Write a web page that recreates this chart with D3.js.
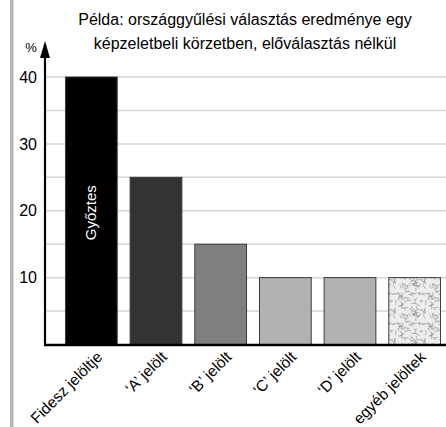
<!DOCTYPE html>
<html lang="hu">
<head>
<meta charset="UTF-8">
<title>Példa: országgyűlési választás</title>
<style>
  body { margin: 0; background: #fff; }
  svg { display: block; font-family: "Liberation Sans", Arial, sans-serif; }
</style>
</head>
<body>
<svg id="chart" width="446" height="427"></svg>
<script src="https://cdn.jsdelivr.net/npm/d3@7"></script>
<script>
// data
const categories = ["Fidesz jelöltje", "‘A’ jelölt", "‘B’ jelölt", "‘C’ jelölt", "‘D’ jelölt", "egyéb jelöltek"];
const values = [40, 25, 15, 10, 10, 10];
const fills = ["#000000", "#333333", "#7f7f7f", "#b2b2b2", "#b2b2b2", "url(#noise)"];
const yTicks = [10, 20, 30, 40];
const gridTicks = [5, 10, 15, 20, 25, 30, 35, 40];
const titleLines = ["Példa: országgyűlési választás eredménye egy", "képzeletbeli körzetben, előválasztás nélkül"];

const svg = d3.select("#chart");

// texture for "egyéb"
const defs = svg.append("defs");
const pat = defs.append("pattern")
  .attr("id", "noise").attr("patternUnits", "userSpaceOnUse")
  .attr("width", 30).attr("height", 30);
pat.append("rect").attr("width", 30).attr("height", 30).attr("fill", "#ededed");
let seed = 11;
function rnd() { seed = (seed * 16807) % 2147483647; return seed / 2147483647; }
for (let i = 0; i < 70; i++) {
  const cx = rnd() * 30, cy = rnd() * 30, a = rnd() * Math.PI, l = 3 + rnd() * 3;
  pat.append("line")
    .attr("x1", cx - Math.cos(a) * l / 2).attr("y1", cy - Math.sin(a) * l / 2)
    .attr("x2", cx + Math.cos(a) * l / 2).attr("y2", cy + Math.sin(a) * l / 2)
    .attr("stroke", "#8a8a8a").attr("stroke-width", 0.6);
}

// left decoration stripe
svg.append("rect").attr("x", 10).attr("y", 0).attr("width", 3.5).attr("height", 427).attr("fill", "#b4b4b4");

const x = d3.scaleBand().domain(categories).range([59, 447]).paddingInner(0.2).paddingOuter(0.1);
const y = d3.scaleLinear().domain([0, 40]).range([344.5, 77]);

// gridlines
svg.append("g").selectAll("line").data(gridTicks).join("line")
  .attr("x1", 46).attr("x2", 446)
  .attr("y1", d => y(d)).attr("y2", d => y(d))
  .attr("stroke", "#d6d6d6").attr("stroke-width", 1.5);

// bars
svg.append("g").selectAll("rect").data(values).join("rect")
  .attr("x", (d, i) => x(categories[i]))
  .attr("y", d => y(d))
  .attr("width", x.bandwidth())
  .attr("height", d => y(0) - y(d))
  .attr("fill", (d, i) => fills[i])
  .attr("stroke", "#3a3a3a").attr("stroke-width", 1);

// winner label
svg.append("text")
  .attr("transform", `translate(${x(categories[0]) + x.bandwidth() / 2 + 5},${y(20) + 2}) rotate(-90)`)
  .attr("text-anchor", "middle").attr("fill", "#fff").attr("font-size", 15)
  .text("Győztes");

// y axis
const yAxis = svg.append("g").attr("transform", "translate(45,0)")
  .call(d3.axisLeft(y).tickValues(yTicks).tickSize(0).tickPadding(8));
yAxis.select(".domain").remove();
yAxis.selectAll("text").attr("font-size", 16).attr("font-family", "Liberation Sans, Arial, sans-serif").attr("fill", "#000");

svg.append("line").attr("x1", 45).attr("x2", 45).attr("y1", 345.5).attr("y2", 52)
  .attr("stroke", "#000").attr("stroke-width", 2.2);
svg.append("path").attr("d", "M45,41 L40,58 L50,58 Z").attr("fill", "#000");
svg.append("text").attr("x", 31).attr("y", 52).attr("text-anchor", "middle").attr("font-size", 13).text("%");

// baseline
svg.append("line").attr("x1", 44).attr("x2", 446).attr("y1", 345).attr("y2", 345)
  .attr("stroke", "#000").attr("stroke-width", 2.5);

// x labels
svg.append("g").selectAll("text").data(categories).join("text")
  .attr("transform", d => `translate(${x(d) + x.bandwidth() / 2 + 12},${358}) rotate(-45)`)
  .attr("text-anchor", "end").attr("font-size", 15.5)
  .text(d => d);

// title
svg.append("g").selectAll("text").data(titleLines).join("text")
  .attr("x", 245).attr("y", (d, i) => 25 + i * 24)
  .attr("text-anchor", "middle").attr("font-size", 16)
  .text(d => d);
</script>
</body>
</html>
